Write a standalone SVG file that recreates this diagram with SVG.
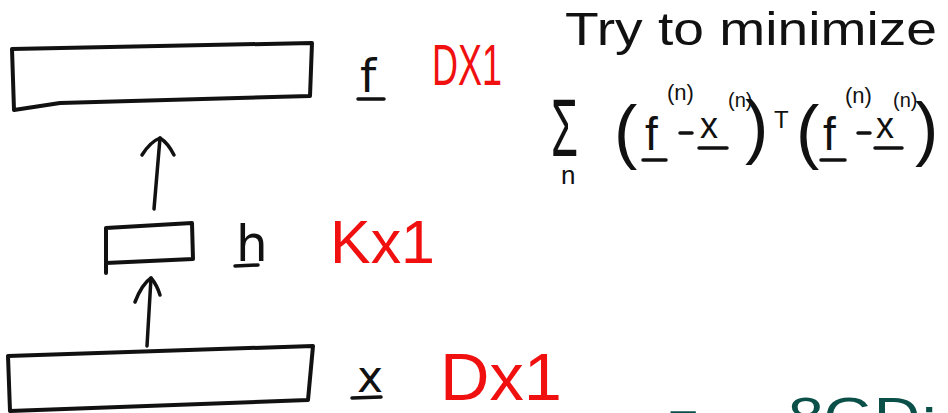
<svg xmlns="http://www.w3.org/2000/svg" width="948" height="413" viewBox="0 0 948 413">
<style>
.box{fill:none;stroke:#111;stroke-width:4;stroke-linejoin:round;stroke-linecap:round}
.ln{fill:none;stroke:#111;stroke-width:3.5;stroke-linecap:round;stroke-linejoin:round}
.lbl{font-family:"DejaVu Sans",sans-serif;fill:#111}
.red{font-family:"Liberation Sans",sans-serif;fill:#f01010}
.blk{font-family:"Liberation Sans",sans-serif;fill:#111}
.grn{font-family:"Liberation Sans",sans-serif;fill:#0b5048}
</style>
<rect width="948" height="413" fill="#fff"/>
<g id="node-f">
<path class="box" d="M12,49 L312,43 L310,96 L60,103 L14,110 Z"/>
<text class="lbl" x="360" y="92" font-size="46">f</text>
<line class="ln" x1="358" y1="99" x2="384" y2="99"/>
<text class="red" x="432" y="85" font-size="58" textLength="70" lengthAdjust="spacingAndGlyphs">DX1</text>
</g>
<g id="node-h">
<path class="box" d="M106,273 L106,228 L192,223 L193,259 L106,263"/>
<text class="lbl" x="236" y="261" font-size="50">h</text>
<line class="ln" x1="235" y1="266" x2="258" y2="265"/>
<text class="red" x="330" y="263" font-size="62" textLength="105" lengthAdjust="spacingAndGlyphs">Kx1</text>
</g>
<g id="node-x">
<path class="box" d="M8,356 L313,346 L308,400 L10,411 Z"/>
<text class="lbl" x="357" y="392" font-size="44">x</text>
<line class="ln" x1="352" y1="398" x2="381" y2="397"/>
<text class="red" x="440" y="400" font-size="66" textLength="122" lengthAdjust="spacingAndGlyphs">Dx1</text>
</g>
<g id="connectors">
<path class="ln" d="M154,209 L160,138"/>
<path class="ln" d="M142,155 Q150,142 160,138 Q168,143 174,155"/>
<path class="ln" d="M147,346 L151,278"/>
<path class="ln" d="M135,302 Q142,284 151,278 Q157,285 160,295"/>
</g>
<g id="note">
<text class="blk" x="565" y="45" font-size="46" textLength="372" lengthAdjust="spacingAndGlyphs">Try to minimize</text>
<text class="blk" x="551" y="156" font-size="82" textLength="27" lengthAdjust="spacingAndGlyphs">Σ</text>
<text class="blk" x="561" y="184" font-size="26">n</text>
<text class="blk" x="614" y="155" font-size="70">(</text>
<text class="blk" x="645" y="150" font-size="46">f</text>
<line class="ln" x1="643" y1="160" x2="666" y2="160"/>
<text class="blk" x="667" y="100" font-size="22">(n)</text>
<line class="ln" x1="680" y1="133" x2="692" y2="133"/>
<text class="blk" x="700" y="138" font-size="36">x</text>
<line class="ln" x1="699" y1="148" x2="727" y2="148"/>
<text class="blk" x="728" y="107" font-size="20">(n)</text>
<text class="blk" x="745" y="150" font-size="70">)</text>
<text class="blk" x="774" y="128" font-size="24">T</text>
<text class="blk" x="796" y="155" font-size="70">(</text>
<text class="blk" x="823" y="150" font-size="46">f</text>
<line class="ln" x1="821" y1="160" x2="845" y2="160"/>
<text class="blk" x="845" y="103" font-size="22">(n)</text>
<line class="ln" x1="858" y1="133" x2="870" y2="133"/>
<text class="blk" x="876" y="138" font-size="36">x</text>
<line class="ln" x1="875" y1="148" x2="902" y2="148"/>
<text class="blk" x="893" y="107" font-size="20">(n)</text>
<text class="blk" x="915" y="152" font-size="70">)</text>
</g>
<g id="cut-off">
<text class="grn" x="668" y="437" font-size="52">=</text>
<text class="grn" x="788" y="434" font-size="52" textLength="150" lengthAdjust="spacingAndGlyphs">8GD:</text>
</g>
</svg>
